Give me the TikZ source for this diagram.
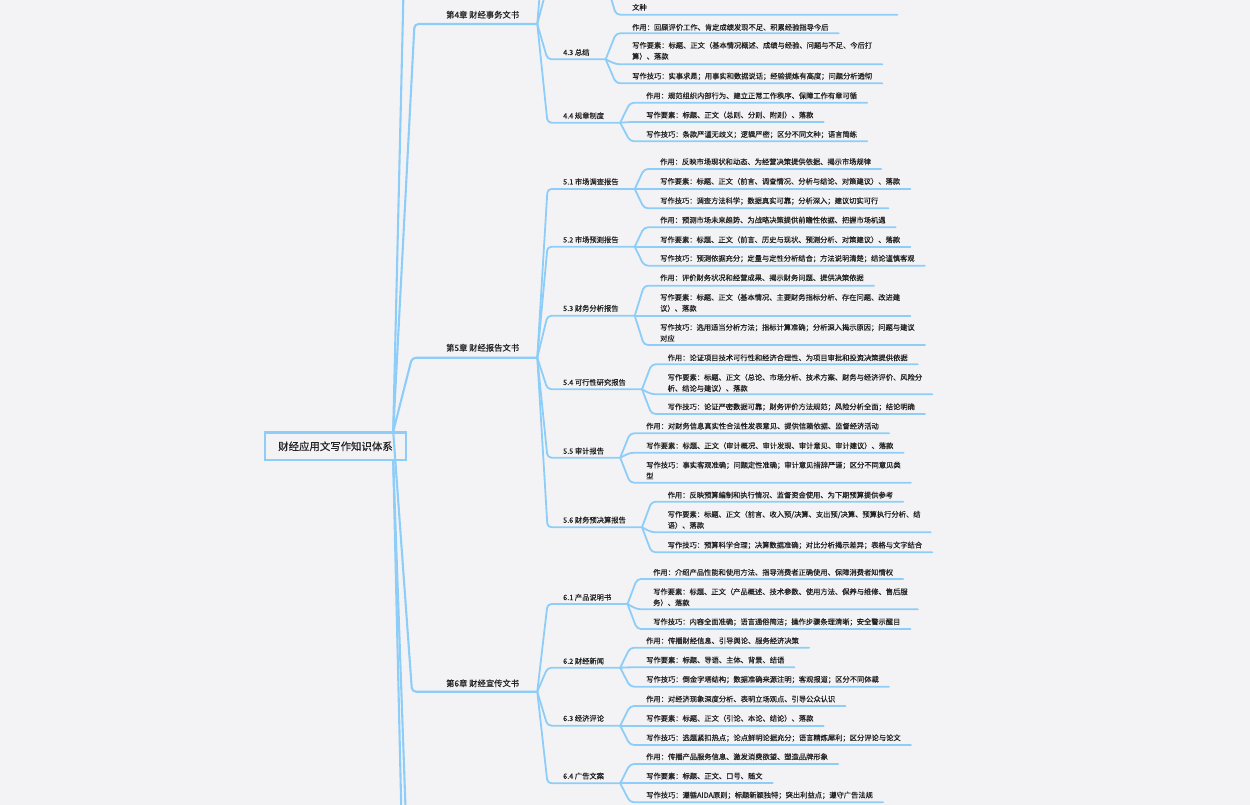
\documentclass[tikz,border=0pt]{standalone}
\usepackage{fontspec}
\newfontfamily\cjk[FakeBold=0.35]{Noto Sans CJK SC}
\definecolor{bg}{HTML}{F3F3F6}
\definecolor{ln}{HTML}{8ECDF8}
\definecolor{tx}{HTML}{222222}
\tikzset{
  conn/.style={draw=ln, line width=1.8pt, rounded corners=4pt, line cap=round, line join=round},
  trunk/.style={conn, line width=2.1pt},
  leaf/.style={font=\cjk\fontsize{7.27}{11}\selectfont, text=tx, inner sep=0pt, anchor=base west},
  subnode/.style={leaf},
  chap/.style={font=\cjk\fontsize{8.3}{10}\selectfont, text=tx, inner sep=0pt, anchor=base west},
  rootbox/.style={draw=ln, line width=2.4pt, fill=bg, minimum width=141pt, minimum height=27.3pt, inner sep=0pt, font=\cjk\fontsize{10.4}{12}\selectfont, text=tx},
}
\newcommand{\ml}[1]{\begin{tabular}[t]{@{}l@{}}#1\end{tabular}}
% #2 name, #3 start coordinate, #4 text x, #5 first line centre y, #6 underline y, #7 text
\newcommand{\mkleaf}[7][]{%
  \node[leaf,#1] (#2) at (#4,#5+2.8) {#7};
  \coordinate (#2c) at (#4-16,#6);
  \path (#2.east) ++(10pt,0) coordinate (#2t);
  \coordinate (#2e) at (#2t |- #2c);
  \draw[conn] (#3) -- (#2c) -- (#2e);
}
% #1 name, #2 start coordinate, #3 centre y, #4 underline y, #5 text
\newcommand{\mksub}[5]{%
  \node[subnode] (#1) at (563,#3+2.8) {#5};
  \coordinate (#1s) at (547.5,#4);
  \path (#1.east) ++(16pt,0) coordinate (#1t);
  \coordinate (#1e) at (#1t |- #1s);
  \draw[conn] (#2) -- (#1s) -- (#1e);
}
% #1 name, #2 corner x, #3 centre y, #4 underline y, #5 text
\newcommand{\mkchap}[5]{%
  \node[chap] (#1) at (446,#3+3.2) {#5};
  \coordinate (#1s) at (#2,#4);
  \path (#1.east) ++(18pt,0) coordinate (#1t);
  \coordinate (#1e) at (#1t |- #1s);
  \draw[trunk] (rt) -- (#1s) -- (#1e);
}
\begin{document}
\begin{tikzpicture}[x=1pt,y=-1pt]
\useasboundingbox (0,0) rectangle (1250,805);
\fill[bg] (0,0) rectangle (1250,805);
\clip (0,0) rectangle (1250,805);

\node[rootbox] (root) at (335.5,446.3) {财经应用文写作知识体系};
\coordinate (rt) at ([xshift=-14pt]root.north east);
\coordinate (rb) at ([xshift=-14pt]root.south east);

% branches leaving the picture
\coordinate (ch3s) at (413,-415);
\coordinate (ch7s) at (412,991);
\coordinate (ch8s) at (412,1271);
\draw[trunk] (rt) -- (ch3s);
\draw[trunk] (rb) -- (ch7s);
\draw[trunk] (rb) -- (ch8s);

% chapter 4
\mkchap{ch4}{414.5}{14.7}{24}{第4章 财经事务文书}
\coordinate (s41s) at (547.5,-100);
\coordinate (s42s) at (547.5,-15);
\coordinate (s42e) at (607,-15);
\draw[conn] (ch4e) -- (s41s);
\draw[conn] (ch4e) -- (s42s) -- (s42e);
\mkleaf[text width=255pt]{l42c}{s42e}{632}{7.3}{14.7}{文种}

\mksub{s43}{ch4e}{52.3}{59.3}{4.3 总结}
\mkleaf{l43a}{s43e}{632}{27.3}{33.3}{作用：回顾评价工作、肯定成绩发现不足、积累经验指导今后}
\mkleaf{l43b}{s43e}{632}{45.3}{64.3}{\ml{写作要素：标题、正文（基本情况概述、成绩与经验、问题与不足、今后打\\算）、落款}}
\mkleaf{l43c}{s43e}{632}{76}{83.3}{写作技巧：实事求是；用事实和数据说话；经验提炼有高度；问题分析透彻}

\mksub{s44}{ch4e}{115.7}{122.7}{4.4 规章制度}
\mkleaf{l44a}{s44e}{646}{95.7}{102.7}{作用：规范组织内部行为、建立正常工作秩序、保障工作有章可循}
\mkleaf{l44b}{s44e}{646}{115}{122}{写作要素：标题、正文（总则、分则、附则）、落款}
\mkleaf{l44c}{s44e}{646}{134.3}{141.3}{写作技巧：条款严谨无歧义；逻辑严密；区分不同文种；语言简练}

% chapter 5
\mkchap{ch5}{412}{347.7}{357.7}{第5章 财经报告文书}

\mksub{s51}{ch5e}{181.7}{189}{5.1 市场调查报告}
\mkleaf{l51a}{s51e}{660}{161.7}{169}{作用：反映市场现状和动态、为经营决策提供依据、揭示市场规律}
\mkleaf{l51b}{s51e}{660}{181.3}{189}{写作要素：标题、正文（前言、调查情况、分析与结论、对策建议）、落款}
\mkleaf{l51c}{s51e}{660}{200.7}{208.3}{写作技巧：调查方法科学；数据真实可靠；分析深入；建议切实可行}

\mksub{s52}{ch5e}{239.7}{246.7}{5.2 市场预测报告}
\mkleaf{l52a}{s52e}{660}{220}{227.3}{作用：预测市场未来趋势、为战略决策提供前瞻性依据、把握市场机遇}
\mkleaf{l52b}{s52e}{660}{239.7}{246.7}{写作要素：标题、正文（前言、历史与现状、预测分析、对策建议）、落款}
\mkleaf{l52c}{s52e}{660}{258.3}{265.7}{写作技巧：预测依据充分；定量与定性分析结合；方法说明清楚；结论谨慎客观}

\mksub{s53}{ch5e}{308.3}{315.7}{5.3 财务分析报告}
\mkleaf{l53a}{s53e}{660}{277.7}{285.7}{作用：评价财务状况和经营成果、揭示财务问题、提供决策依据}
\mkleaf{l53b}{s53e}{660}{297.3}{315.7}{\ml{写作要素：标题、正文（基本情况、主要财务指标分析、存在问题、改进建\\议）、落款}}
\mkleaf{l53c}{s53e}{660}{327.3}{345}{\ml{写作技巧：选用适当分析方法；指标计算准确；分析深入揭示原因；问题与建议\\对应}}

\mksub{s54}{ch5e}{382.3}{389.3}{5.4 可行性研究报告}
\mkleaf{l54a}{s54e}{667.5}{357.7}{364.3}{作用：论证项目技术可行性和经济合理性、为项目审批和投资决策提供依据}
\mkleaf{l54b}{s54e}{667.5}{377.3}{394.3}{\ml{写作要素：标题、正文（总论、市场分析、技术方案、财务与经济评价、风险分\\析、结论与建议）、落款}}
\mkleaf{l54c}{s54e}{667.5}{406.7}{414}{写作技巧：论证严密数据可靠；财务评价方法规范；风险分析全面；结论明确}

\mksub{s55}{ch5e}{451}{457.7}{5.5 审计报告}
\mkleaf{l55a}{s55e}{646}{426}{433.3}{作用：对财务信息真实性合法性发表意见、提供信赖依据、监督经济活动}
\mkleaf{l55b}{s55e}{646}{445.7}{452.7}{写作要素：标题、正文（审计概况、审计发现、审计意见、审计建议）、落款}
\mkleaf{l55c}{s55e}{646}{465}{482.7}{\ml{写作技巧：事实客观准确；问题定性准确；审计意见措辞严谨；区分不同意见类\\型}}

\mksub{s56}{ch5e}{520}{527.3}{5.6 财务预决算报告}
\mkleaf{l56a}{s56e}{667.5}{495}{501.7}{作用：反映预算编制和执行情况、监督资金使用、为下期预算提供参考}
\mkleaf{l56b}{s56e}{667.5}{514.3}{532.3}{\ml{写作要素：标题、正文（前言、收入预/决算、支出预/决算、预算执行分析、结\\语）、落款}}
\mkleaf{l56c}{s56e}{667.5}{545}{552.3}{写作技巧：预算科学合理；决算数据准确；对比分析揭示差异；表格与文字结合}

% chapter 6
\mkchap{ch6}{412}{683.3}{691.7}{第6章 财经宣传文书}

\mksub{s61}{ch6e}{597.3}{604}{6.1 产品说明书}
\mkleaf{l61a}{s61e}{653}{572.3}{579}{作用：介绍产品性能和使用方法、指导消费者正确使用、保障消费者知情权}
\mkleaf{l61b}{s61e}{653}{591.7}{609.3}{\ml{写作要素：标题、正文（产品概述、技术参数、使用方法、保养与维修、售后服\\务）、落款}}
\mkleaf{l61c}{s61e}{653}{621.7}{629}{写作技巧：内容全面准确；语言通俗简洁；操作步骤条理清晰；安全警示醒目}

\mksub{s62}{ch6e}{661}{667.7}{6.2 财经新闻}
\mkleaf{l62a}{s62e}{646}{640.7}{647.7}{作用：传播财经信息、引导舆论、服务经济决策}
\mkleaf{l62b}{s62e}{646}{660}{667.3}{写作要素：标题、导语、主体、背景、结语}
\mkleaf{l62c}{s62e}{646}{679.3}{686.7}{写作技巧：倒金字塔结构；数据准确来源注明；客观报道；区分不同体裁}

\mksub{s63}{ch6e}{718.3}{725.7}{6.3 经济评论}
\mkleaf{l63a}{s63e}{646}{699}{706}{作用：对经济现象深度分析、表明立场观点、引导公众认识}
\mkleaf{l63b}{s63e}{646}{718.3}{725.7}{写作要素：标题、正文（引论、本论、结论）、落款}
\mkleaf{l63c}{s63e}{646}{737.7}{745}{写作技巧：选题紧扣热点；论点鲜明论据充分；语言精炼犀利；区分评论与论文}

\mksub{s64}{ch6e}{776}{783.3}{6.4 广告文案}
\mkleaf{l64a}{s64e}{646}{756.7}{764}{作用：传播产品服务信息、激发消费欲望、塑造品牌形象}
\mkleaf{l64b}{s64e}{646}{776}{783.3}{写作要素：标题、正文、口号、随文}
\mkleaf{l64c}{s64e}{646}{795}{802.3}{写作技巧：遵循AIDA原则；标题新颖独特；突出利益点；遵守广告法规}
\end{tikzpicture}
\end{document}
